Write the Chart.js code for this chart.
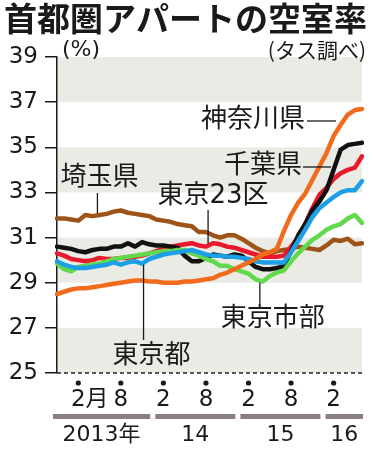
<!DOCTYPE html>
<html>
<head>
<meta charset="utf-8">
<script src="https://cdn.jsdelivr.net/npm/chart.js@4.4.0/dist/chart.umd.min.js"></script>
<style>
  html, body { margin: 0; padding: 0; background: #fff; }
</style>
</head>
<body>
<canvas id="grafica" width="373" height="450"></canvas>
<script>
// meses (2012年11月 〜 2016年6月)
const meses = [
  '2012-11','2012-12',
  '2013-01','2013-02','2013-03','2013-04','2013-05','2013-06','2013-07','2013-08','2013-09','2013-10','2013-11','2013-12',
  '2014-01','2014-02','2014-03','2014-04','2014-05','2014-06','2014-07','2014-08','2014-09','2014-10','2014-11','2014-12',
  '2015-01','2015-02','2015-03','2015-04','2015-05','2015-06','2015-07','2015-08','2015-09','2015-10','2015-11','2015-12',
  '2016-01','2016-02','2016-03','2016-04','2016-05','2016-06'
];

const kanagawa = [28.5,28.6,28.7,28.75,28.75,28.8,28.85,28.9,28.95,29.0,29.05,29.1,29.1,29.05,
  29.05,29.0,29.0,29.0,29.05,29.05,29.1,29.15,29.2,29.35,29.45,29.6,
  29.75,29.9,30.05,30.25,30.35,30.5,31.3,32.0,32.55,32.95,33.55,34.15,
  34.75,35.5,36.0,36.45,36.65,36.7];

const chiba = [30.6,30.55,30.5,30.4,30.35,30.45,30.5,30.5,30.6,30.6,30.75,30.6,30.8,30.7,
  30.65,30.65,30.6,30.55,30.2,29.95,29.95,30.1,30.25,30.2,30.15,30.25,
  30.2,29.95,29.7,29.6,29.6,29.65,29.75,30.4,31.1,31.6,32.2,32.6,
  33.1,34.0,34.9,35.1,35.15,35.2];

const tokyo23 = [30.3,30.2,30.05,30.0,29.95,30.0,30.1,30.05,30.05,30.1,30.1,30.15,30.2,30.3,
  30.4,30.5,30.6,30.65,30.7,30.75,30.65,30.6,30.75,30.7,30.6,30.55,
  30.45,30.35,30.25,30.15,30.15,30.15,30.2,30.6,31.0,31.6,32.3,32.9,
  33.2,33.6,33.85,34.0,34.1,34.6];

const tokyoTo = [29.95,29.8,29.7,29.65,29.65,29.7,29.75,29.8,29.9,29.8,29.9,29.95,29.85,30.05,
  30.15,30.25,30.3,30.35,30.4,30.45,30.35,30.25,30.2,30.2,30.15,30.15,
  30.1,30.05,29.95,29.9,29.9,29.9,29.9,30.35,30.85,31.35,31.9,32.3,
  32.55,32.8,33.0,33.1,33.1,33.5];

const tokyoShibu = [29.85,29.6,29.5,29.7,29.75,29.8,29.85,29.95,30.05,30.1,30.15,30.2,30.25,30.3,
  30.35,30.4,30.4,30.45,30.45,30.3,30.2,30.05,29.95,29.75,29.75,29.6,
  29.5,29.4,29.15,29.05,29.3,29.45,29.55,29.95,30.3,30.6,30.9,31.1,
  31.35,31.5,31.6,31.85,32.0,31.65];

const saitama = [31.85,31.85,31.8,31.75,32.0,31.95,32.0,32.05,32.15,32.2,32.1,32.05,32.0,31.95,
  31.8,31.75,31.7,31.6,31.55,31.5,31.25,31.25,31.1,31.0,31.1,31.1,
  30.95,30.75,30.55,30.4,30.3,30.4,30.45,30.5,30.6,30.55,30.5,30.45,
  30.65,30.9,30.85,30.95,30.7,30.75];

// ejes
const ticksY = [25, 27, 29, 31, 33, 35, 37, 39];
const bandas = [[25, 27], [29, 31], [33, 35], [37, 39]];
const marcasMes = ['2013-02','2013-08','2014-02','2014-08','2015-02','2015-08','2016-02'];
const textoMes = ['2月','8','2','8','2','8','2'];
const anios = ['2013年','14','15','16'];
const rangoAnio = [['2012-11','2013-12'],['2014-01','2014-12'],['2015-01','2015-12'],['2016-01','2016-06']];

const FUENTE = "'DejaVu Sans', 'Noto Sans CJK JP', sans-serif";
const JP = "'Noto Sans CJK JP', sans-serif";

// ==============================
// PLUGIN: fondo, textos y notas
// ==============================
const decoracion = {
  id: 'decoracion',

  beforeDraw(chart) {
    const { ctx, chartArea: a, scales: { y } } = chart;
    ctx.save();
    ctx.fillStyle = '#fff';
    ctx.fillRect(0, 0, chart.width, chart.height);
    ctx.fillStyle = '#ebebe5';
    bandas.forEach(([d, h]) => {
      const t = y.getPixelForValue(h), b = y.getPixelForValue(d);
      ctx.fillRect(a.left, t, a.right - a.left, b - t);
    });
    ctx.restore();
  },

  beforeDatasetsDraw(chart) {
    const { ctx, chartArea: a } = chart;
    ctx.save();
    ctx.setLineDash([4, 3]);
    ctx.strokeStyle = '#222';
    ctx.lineWidth = 1.5;
    ctx.beginPath();
    ctx.moveTo(a.left, a.bottom);
    ctx.lineTo(a.right, a.bottom);
    ctx.stroke();
    ctx.restore();
  },

  afterDraw(chart) {
    const { ctx, chartArea: a, scales: { x, y } } = chart;
    ctx.save();
    ctx.fillStyle = '#1a1a1a';
    ctx.strokeStyle = '#1a1a1a';

    // titulo
    ctx.font = "bold 33px " + JP;
    ctx.textBaseline = 'alphabetic';
    ctx.textAlign = 'left';
    ctx.fillText('首都圏アパートの空室率', 4, 31);

    ctx.font = "22px " + FUENTE;
    ctx.textBaseline = 'middle';
    ctx.fillText('(%)', 62, 50);
    ctx.textAlign = 'right';
    ctx.font = "21px " + JP;
    ctx.fillText('(タス調べ)', 366, 50);

    // meses
    ctx.font = "23px " + FUENTE;
    marcasMes.forEach((m, i) => {
      const px = x.getPixelForValue(m);
      ctx.beginPath();
      ctx.arc(px, a.bottom + 10, 2.6, 0, Math.PI * 2);
      ctx.fill();
      const t = textoMes[i];
      if (t.length > 1) {
        const w = ctx.measureText(t[0]).width;
        ctx.textAlign = 'left';
        ctx.fillText(t, px - w / 2, a.bottom + 27);
      } else {
        ctx.textAlign = 'center';
        ctx.fillText(t, px, a.bottom + 27);
      }
    });

    // barras de año
    ctx.fillStyle = '#8a8080';
    const centros = rangoAnio.map(([d, h], i) => {
      const l = x.getPixelForValue(d) - (i === 0 ? 4 : 1);
      const r = x.getPixelForValue(h) + 1;
      ctx.fillRect(l, a.bottom + 41, r - l, 5);
      return (l + r) / 2;
    });
    ctx.fillStyle = '#1a1a1a';
    ctx.textAlign = 'center';
    ctx.font = "22px " + FUENTE;
    anios.forEach((t, i) => ctx.fillText(t, centros[i], a.bottom + 62));

    // notas con lineas guia
    ctx.font = "26px " + FUENTE;
    ctx.lineWidth = 1.3;
    const guia = (x1, y1, x2, y2) => {
      ctx.beginPath(); ctx.moveTo(x1, y1); ctx.lineTo(x2, y2); ctx.stroke();
    };
    const punto = (serie, idx) => {
      const i0 = Math.floor(idx), f = idx - i0;
      const v = serie[i0] + (serie[i0 + 1] - serie[i0]) * f;
      return [x.getPixelForValue(idx), y.getPixelForValue(v)];
    };

    let p = punto(saitama, 5.7);
    guia(p[0], p[1] - 2, p[0], 193);
    ctx.textAlign = 'center';
    ctx.fillText('埼玉県', p[0] + 2, 178);

    p = punto(tokyo23, 21.3);
    guia(p[0], p[1] - 2, p[0], 210);
    ctx.fillText('東京23区', p[0] + 5, 196);

    p = punto(tokyoTo, 12.2);
    guia(p[0], p[1] + 2, p[0], 340);
    ctx.fillText('東京都', p[0] + 8, 356);

    p = punto(tokyoShibu, 28.6);
    guia(p[0], p[1] + 2, p[0], 304);
    ctx.fillText('東京市部', p[0] + 13, 319);

    ctx.textAlign = 'right';
    guia(307, 121, 336, 121);
    ctx.fillText('神奈川県', 305, 120);
    guia(303, 167, 331, 167);
    ctx.fillText('千葉県', 302, 166);

    ctx.restore();
  }
};

function serie(datos, color) {
  return {
    data: datos,
    borderColor: color,
    borderWidth: 4.5,
    pointRadius: 0,
    tension: 0,
    borderJoinStyle: 'round',
    borderCapStyle: 'round',
    fill: false
  };
}

new Chart(document.getElementById('grafica'), {
  type: 'line',
  data: {
    labels: meses,
    datasets: [
      serie(kanagawa, '#f26a1b'),
      serie(tokyoTo, '#1c9fe6'),
      serie(tokyoShibu, '#62d84c'),
      serie(chiba, '#111111'),
      serie(tokyo23, '#e8192c'),
      serie(saitama, '#9e5418')
    ]
  },
  options: {
    responsive: false,
    animation: false,
    layout: { padding: { top: 57, left: 0, right: 11, bottom: 77 } },
    plugins: { legend: { display: false }, tooltip: { enabled: false } },
    scales: {
      x: { type: 'category', display: false, offset: false },
      y: {
        min: 25,
        max: 39,
        afterFit(s) { s.width = 57; },
        afterBuildTicks(s) { s.ticks = ticksY.map(v => ({ value: v })); },
        border: { display: true, color: '#1a1a1a', width: 1.5 },
        grid: { drawOnChartArea: false, drawTicks: true, tickLength: 12, color: '#1a1a1a', lineWidth: 1.5 },
        ticks: { padding: 7, color: '#1a1a1a', font: { family: FUENTE, size: 23 } }
      }
    }
  },
  plugins: [decoracion]
});
</script>
</body>
</html>
